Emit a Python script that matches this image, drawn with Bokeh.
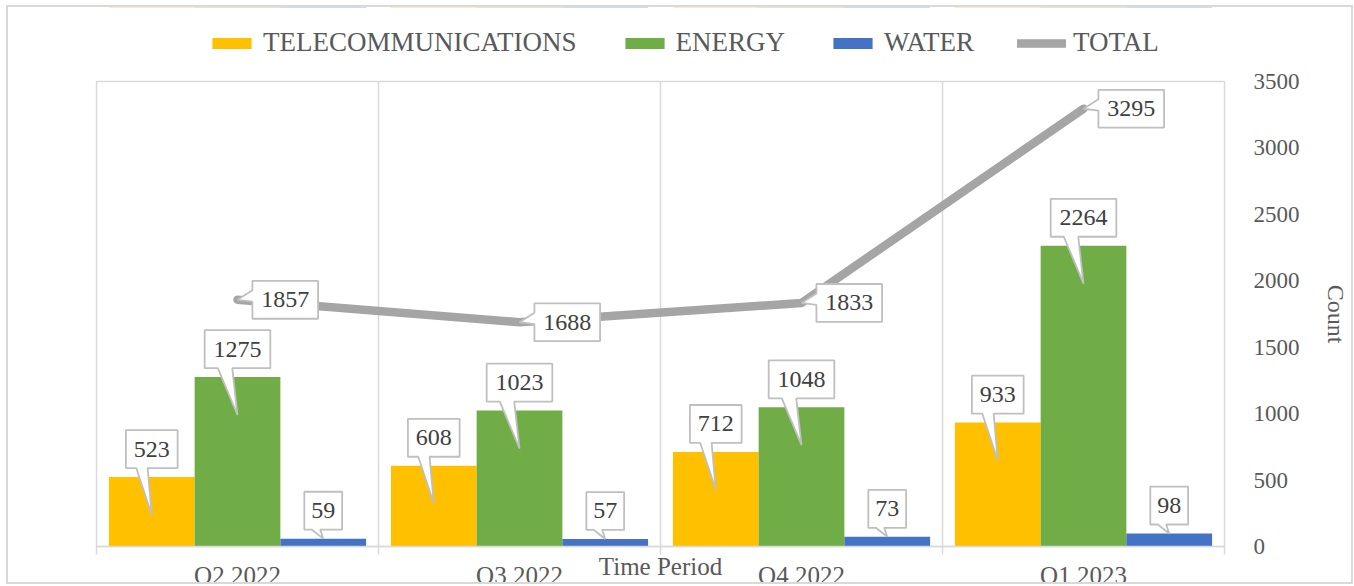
from bokeh.plotting import figure
from bokeh.layouts import column
from bokeh.models import (Range1d, FixedTicker, Legend, LegendItem,
                          ColumnDataSource)
from bokeh.core.properties import value
from bokeh.embed import file_html
from bokeh.resources import INLINE

# ---------------- data ----------------
categories = ["Q2 2022", "Q3 2022", "Q4 2022", "Q1 2023"]
telecom = [523, 608, 712, 933]
energy = [1275, 1023, 1048, 2264]
water = [59, 57, 73, 98]
total = [1857, 1688, 1833, 3295]
y_ticks = [0, 500, 1000, 1500, 2000, 2500, 3000, 3500]
series_names = ["TELECOMMUNICATIONS", "ENERGY", "WATER", "TOTAL"]
x_title = "Time Period"
y_title = "Count"

# ---------------- layout / style ----------------
W = 1343
LEG_H = 54
H = 521
ML, MR, MT, MB = 88, 121, 20, 35
FW, FH = W - ML - MR, H - MT - MB
N = len(categories)
YMAX = y_ticks[-1]
fx = N / FW          # data units per pixel (x)
fy = YMAX / FH       # data units per pixel (y)

C_TEL, C_EN, C_WAT, C_TOT = "#FFC000", "#70AD47", "#4472C4", "#A5A5A5"
GRID = "#D9D9D9"
TXT = "#595959"
LBL = "#404040"
FONT = "Liberation Serif"
BW = 0.304
offsets = [-BW, 0.0, BW]

p = figure(width=W, height=H, x_range=Range1d(0, N), y_range=Range1d(0, YMAX),
           output_backend="svg", toolbar_location=None, y_axis_location="right",
           min_border_left=ML, min_border_right=MR, min_border_top=MT,
           min_border_bottom=MB, background_fill_color="white",
           border_fill_color="white")
p.outline_line_color = GRID
p.outline_line_width = 1.5

centers = [i + 0.5 for i in range(N)]
bounds = list(range(N + 1))

# x axis: category labels at centres, small ticks at boundaries
p.xaxis.ticker = FixedTicker(ticks=centers, minor_ticks=bounds)
p.xgrid.ticker = FixedTicker(ticks=bounds)
p.xaxis.major_label_overrides = {c: cat for c, cat in zip(centers, categories)}
p.xaxis.major_label_text_font = FONT
p.xaxis.major_label_text_font_size = "25px"
p.xaxis.major_label_text_color = TXT
p.xaxis.major_label_standoff = 7
p.xaxis.major_tick_in = 0
p.xaxis.major_tick_out = 0
p.xaxis.major_tick_line_color = None
p.xaxis.minor_tick_in = 0
p.xaxis.minor_tick_out = 8
p.xaxis.minor_tick_line_color = GRID
p.xaxis.minor_tick_line_width = 1.5
p.xaxis.axis_line_color = GRID
p.xaxis.axis_line_width = 1.5
p.xaxis.axis_label = x_title
p.xaxis.axis_label_text_font = FONT
p.xaxis.axis_label_text_font_size = "25px"
p.xaxis.axis_label_text_font_style = "normal"
p.xaxis.axis_label_text_color = TXT
p.xaxis.axis_label_standoff = -39
p.xgrid.grid_line_color = GRID
p.xgrid.grid_line_width = 1.5
p.ygrid.grid_line_color = None

# y axis (right)
p.yaxis.ticker = FixedTicker(ticks=y_ticks)
p.yaxis.axis_line_color = None
p.yaxis.major_tick_line_color = None
p.yaxis.minor_tick_line_color = None
p.yaxis.major_label_standoff = 23
p.yaxis.major_label_text_font = FONT
p.yaxis.major_label_text_font_size = "23px"
p.yaxis.major_label_text_color = TXT
p.yaxis.axis_label = y_title
p.yaxis.axis_label_text_font = FONT
p.yaxis.axis_label_text_font_size = "24px"
p.yaxis.axis_label_text_font_style = "normal"
p.yaxis.axis_label_text_color = TXT
p.yaxis.axis_label_standoff = 20

# ---------------- bars ----------------
bar_series = [telecom, energy, water]
bar_colors = [C_TEL, C_EN, C_WAT]
for vals, off, col in zip(bar_series, offsets, bar_colors):
    src = ColumnDataSource(dict(x=[c + off for c in centers], top=vals))
    p.vbar(x="x", top="top", bottom=0, width=BW, source=src,
           fill_color=col, line_color=None)

# ---------------- total line ----------------
p.line(centers, total, line_color=C_TOT, line_width=8.5,
       line_cap="round", line_join="round")

# ---------------- callouts ----------------
def box_w(v):
    return 14 * len(str(v)) + 10

cx, cy, ctext = [], [], []
pxs, pys = [], []
BOX_H = 38
for vals, off in zip(bar_series, offsets):
    for c, v in zip(centers, vals):
        xc = c + off
        w = box_w(v)
        left = xc - w / 2 * fx
        right = xc + w / 2 * fx
        bottom = v + 9 * fy
        top = bottom + BOX_H * fy
        depth = 38 if v / fy > 60 else 0
        b1 = left + 0.2 * w * fx
        b2 = left + 0.42 * w * fx
        tip_y = v - depth * fy
        pxs.append([left, b1, xc, b2, right, right, left])
        pys.append([bottom, bottom, tip_y, bottom, bottom, top, top])
        cx.append((left + right) / 2)
        cy.append((bottom + top) / 2)
        ctext.append(str(v))

for c, v in zip(centers, total):
    w = box_w(v)
    left = c + 15 * fx
    right = left + w * fx
    top = v + BOX_H / 2 * fy
    bottom = v - BOX_H / 2 * fy
    hh = top - bottom
    pxs.append([left, right, right, left, left, c, left])
    pys.append([top, top, bottom, bottom, top - 0.55 * hh, v, top - 0.25 * hh])
    cx.append((left + right) / 2)
    cy.append(v)
    ctext.append(str(v))

p.patches(pxs, pys, fill_color="white", line_color="#BFBFBF", line_width=1.8)
p.text(x=cx, y=cy, text=ctext, text_align="center", text_baseline="middle",
       text_font=value(FONT), text_font_size="24px", text_color=LBL)

# ---------------- legend (separate strip above the plot) ----------------
# same series drawn into a strip whose y-range hides them; only the legend shows
lg = figure(width=W, height=LEG_H, x_range=Range1d(0, N), y_range=Range1d(-2, -1),
            output_backend="svg", toolbar_location=None,
            x_axis_location=None, y_axis_location=None,
            min_border_left=0, min_border_right=0, min_border_top=0,
            min_border_bottom=0, background_fill_color="white",
            border_fill_color="white")
lg.outline_line_color = None
lg.grid.grid_line_color = None
leg_rs = []
for vals, off, col in zip(bar_series, offsets, bar_colors):
    leg_rs.append(lg.vbar(x=[c + off for c in centers], top=vals, bottom=0,
                          width=BW, fill_color=col, line_color=None))
leg_rs.append(lg.line(centers, total, line_color=C_TOT, line_width=8.5,
                      line_cap="round"))

legend = Legend(items=[LegendItem(label=n, renderers=[r]) for n, r in zip(series_names, leg_rs)],
                orientation="horizontal", location=(111, 3),
                padding=0, margin=0, spacing=43, glyph_width=49, glyph_height=14,
                label_standoff=7, label_text_font=FONT, label_text_font_size="27px",
                label_text_color=TXT, border_line_color=None,
                background_fill_alpha=0)
lg.add_layout(legend, "center")

root = column(lg, p, spacing=0,
              styles={"border": "2px solid #D9D9D9", "margin-left": "6px",
                      "margin-top": "5px"})

open("out.html", "w").write(file_html(root, INLINE))
